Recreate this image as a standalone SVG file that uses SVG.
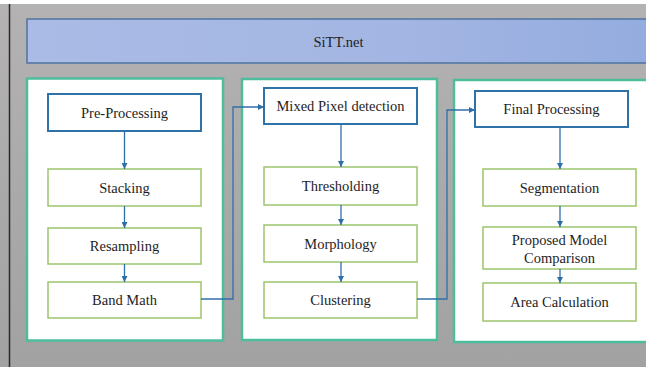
<svg xmlns="http://www.w3.org/2000/svg" width="646" height="367" viewBox="0 0 646 367">
<defs>
<linearGradient id="bg" x1="0" y1="0" x2="0" y2="1"><stop offset="0" stop-color="#b4b2b2"/><stop offset="1" stop-color="#a2a2a2"/></linearGradient>
<linearGradient id="tb" x1="0" y1="0" x2="1" y2="0"><stop offset="0" stop-color="#aabbe6"/><stop offset="0.6" stop-color="#a3b5e2"/><stop offset="1" stop-color="#93acdf"/></linearGradient>
<marker id="ah" viewBox="0 0 10 10" refX="10" refY="5" markerWidth="6" markerHeight="6" markerUnits="userSpaceOnUse" orient="auto"><path d="M0,0 L10,5 L0,10 z" fill="#2f6fa8"/></marker>
<style>
.panel{fill:#ffffff;stroke:#4dbd9c;stroke-width:2.5}
.head{fill:#ffffff;stroke:#2f72a8;stroke-width:2}
.step{fill:#ffffff;stroke:#9cc46c;stroke-width:1.5}
.t{font-size:14.5px;fill:#1e1e1e;text-anchor:middle}
.c{fill:none;stroke:#2f6fa8;stroke-width:1.3;marker-end:url(#ah)}
</style>
</defs>
<rect x="0" y="0" width="646" height="367" fill="#ffffff"/>
<rect x="0" y="4" width="646" height="363" fill="url(#bg)"/>
<line x1="9.5" y1="4" x2="9.5" y2="367" stroke="#2a2a2a" stroke-width="1.5"/>
<g font-family="'Liberation Serif', 'Times New Roman', serif">
<g id="title">
<rect x="27" y="19" width="630" height="44" fill="url(#tb)" stroke="#4f74a0" stroke-width="1.5"/>
<text class="t" x="338.5" y="47">SiTT.net</text>
</g>
<g id="panel1"><rect class="panel" x="27" y="78.5" width="196" height="262"/></g>
<g id="panel2"><rect class="panel" x="242" y="79" width="195" height="261"/></g>
<g id="panel3"><rect class="panel" x="454" y="80" width="200" height="262"/></g>
<g id="pre"><rect class="head" x="48" y="94" width="153" height="37"/><text class="t" x="124.5" y="117.5">Pre-Processing</text></g>
<g id="stacking"><rect class="step" x="48" y="169" width="153" height="37"/><text class="t" x="124.5" y="192.5">Stacking</text></g>
<g id="resampling"><rect class="step" x="48" y="228" width="153" height="36"/><text class="t" x="124.5" y="251">Resampling</text></g>
<g id="bandmath"><rect class="step" x="48" y="282" width="153" height="36"/><text class="t" x="124.5" y="305">Band Math</text></g>
<g id="mixed"><rect class="head" x="264" y="88" width="153" height="36"/><text class="t" x="340.5" y="111">Mixed Pixel detection</text></g>
<g id="thresholding"><rect class="step" x="264" y="167" width="153" height="38"/><text class="t" x="340.5" y="191">Thresholding</text></g>
<g id="morphology"><rect class="step" x="264" y="225" width="153" height="37"/><text class="t" x="340.5" y="248.5">Morphology</text></g>
<g id="clustering"><rect class="step" x="264" y="282" width="153" height="36"/><text class="t" x="340.5" y="305">Clustering</text></g>
<g id="final"><rect class="head" x="475" y="91" width="153" height="36"/><text class="t" x="551.5" y="114">Final Processing</text></g>
<g id="segmentation"><rect class="step" x="483" y="169" width="153" height="37"/><text class="t" x="559.5" y="192.5">Segmentation</text></g>
<g id="proposed"><rect class="step" x="483" y="227" width="153" height="42"/><text class="t" x="559.5" y="244.5">Proposed Model</text><text class="t" x="559.5" y="262.5">Comparison</text></g>
<g id="area"><rect class="step" x="483" y="283" width="153" height="38"/><text class="t" x="559.5" y="307">Area Calculation</text></g>
</g>
<g id="connectors">
<path class="c" d="M124.5,131 V169"/>
<path class="c" d="M124.5,206 V228"/>
<path class="c" d="M124.5,264 V282"/>
<path class="c" d="M341,124 V167"/>
<path class="c" d="M341,205 V225"/>
<path class="c" d="M341,262 V282"/>
<path class="c" d="M560,127 V169"/>
<path class="c" d="M560,206 V227"/>
<path class="c" d="M560,269 V283"/>
<path class="c" d="M201,299 H233 V107 H264"/>
<path class="c" d="M417,299 H447 V110 H475"/>
</g>
</svg>
